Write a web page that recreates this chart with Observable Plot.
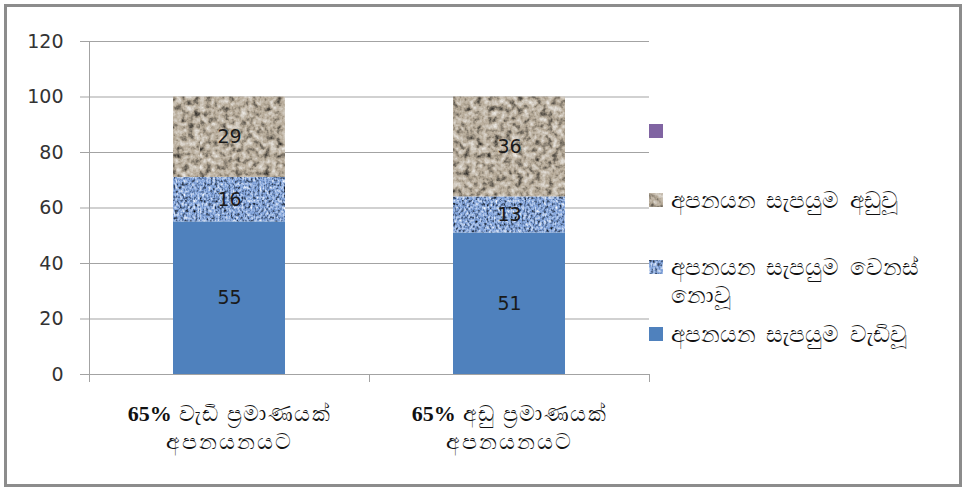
<!DOCTYPE html>
<html>
<head>
<meta charset="utf-8">
<script src="https://cdn.jsdelivr.net/npm/d3@7"></script>
<script src="https://cdn.jsdelivr.net/npm/@observablehq/plot@0.6"></script>
<style>
  html, body { margin: 0; padding: 0; background: #fff; }
  #wrap { position: relative; width: 964px; height: 487px; overflow: hidden; font-family: "DejaVu Sans", sans-serif; }
  #border { position: absolute; left: 4px; top: 4px; width: 958px; height: 483px; box-sizing: border-box; border: 3px solid #8c8c8c; pointer-events: none; }
  #chart { position: absolute; left: 0; top: 0; }
  .legend-item { position: absolute; left: 649px; display: flex; align-items: flex-start; font-size: 23px; word-spacing: 3px; color: #111; line-height: 28px; white-space: nowrap; }
  .legend-item svg { flex: none; margin-right: 8px; margin-top: 7px; }
</style>
</head>
<body>
<svg width="0" height="0" style="position:absolute">
  <defs>
    <filter id="graniteNoise" x="0" y="0" width="100%" height="100%" color-interpolation-filters="sRGB">
      <feTurbulence type="fractalNoise" baseFrequency="0.17" numOctaves="3" seed="7" result="n"/>
      <feColorMatrix in="n" type="saturate" values="0" result="g"/>
      <feComponentTransfer in="g" result="c">
        <feFuncR type="linear" slope="1.3" intercept="-0.12"/>
        <feFuncG type="linear" slope="1.3" intercept="-0.12"/>
        <feFuncB type="linear" slope="1.3" intercept="-0.12"/>
        <feFuncA type="linear" slope="0" intercept="1"/>
      </feComponentTransfer>
      <feBlend in="SourceGraphic" in2="c" mode="overlay"/>
    </filter>
    <filter id="denimNoise" x="0" y="0" width="100%" height="100%" color-interpolation-filters="sRGB">
      <feTurbulence type="fractalNoise" baseFrequency="0.45 0.3" numOctaves="2" seed="3" result="n"/>
      <feColorMatrix in="n" type="saturate" values="0" result="g"/>
      <feComponentTransfer in="g" result="c">
        <feFuncR type="linear" slope="1.6" intercept="-0.28"/>
        <feFuncG type="linear" slope="1.6" intercept="-0.28"/>
        <feFuncB type="linear" slope="1.6" intercept="-0.28"/>
        <feFuncA type="linear" slope="0" intercept="1"/>
      </feComponentTransfer>
      <feBlend in="SourceGraphic" in2="c" mode="overlay"/>
    </filter>
    <pattern id="granite" patternUnits="userSpaceOnUse" width="200" height="200">
      <rect width="200" height="200" fill="#b5a997" filter="url(#graniteNoise)"/>
    </pattern>
    <pattern id="denim" patternUnits="userSpaceOnUse" width="200" height="200">
      <rect width="200" height="200" fill="#80a2da" filter="url(#denimNoise)"/>
    </pattern>
  </defs>
</svg>
<div id="wrap">
  <div id="chart"></div>
  <div id="legend"></div>
  <div id="border"></div>
</div>
<script>
// Categories (two lines each) and the three stacked series
const categories = ["65% වැඩි ප්‍රමාණයක්\nඅපනයනයට", "65% අඩු ප්‍රමාණයක්\nඅපනයනයට"];
const seriesNames = ["අපනයන සැපයුම වැඩිවූ", "අපනයන සැපයුම වෙනස් නොවූ", "අපනයන සැපයුම අඩුවූ"];
const increased = [55, 51];
const unchanged = [16, 13];
const decreased = [29, 36];
const yTicks = [0, 20, 40, 60, 80, 100, 120];
const seriesFills = ["#4F81BD", "url(#denim)", "url(#granite)"];

const seriesValues = [increased, unchanged, decreased];
const rows = categories.flatMap((category, i) =>
  seriesNames.map((series, j) => ({idx: i, category, series, value: seriesValues[j][i]}))
);

const halfBar = 0.2; // bar half-width in category units

const chart = Plot.plot({
  width: 964,
  height: 487,
  marginLeft: 89,
  marginRight: 315,
  marginTop: 41,
  marginBottom: 113,
  style: {background: "transparent", fontFamily: "DejaVu Sans, sans-serif", fontSize: "19px"},
  x: {domain: [0, categories.length]},
  y: {domain: [0, 120]},
  color: {domain: seriesNames, range: seriesFills},
  marks: [
    Plot.ruleY(yTicks, {stroke: "#a3a3a3", strokeWidth: 1}),
    Plot.ruleX([0], {stroke: "#a3a3a3"}),
    Plot.axisY({ticks: yTicks, tickSize: 9, tickPadding: 17, stroke: "#a3a3a3", fill: "#333", fontSize: 19, label: null}),
    Plot.axisX({ticks: [0, 1, 2], tickSize: 8, tickFormat: () => "", stroke: "#a3a3a3", label: null}),
    Plot.rectY(rows, Plot.stackY({
      x: "idx",
      x1: d => d.idx + 0.5 - halfBar,
      x2: d => d.idx + 0.5 + halfBar,
      y: "value",
      fill: "series",
      order: seriesNames
    })),
    Plot.text(rows, Plot.stackY({
      x: d => d.idx + 0.5,
      y: "value",
      text: d => String(d.value),
      fill: "#1a1a1a",
      fontSize: 19
    })),
    Plot.text(categories, {
      x: (d, i) => i + 0.5,
      frameAnchor: "bottom",
      lineAnchor: "top",
      dy: 27,
      text: d => d,
      fontSize: 22,
      fontFamily: "Liberation Serif, serif",
      lineHeight: 1.25,
      fill: "#111"
    })
  ]
});
document.getElementById("chart").appendChild(chart);

// Bold the percentage at the start of each category label; widen the Sinhala spacing
d3.select(chart).selectAll("tspan").each(function() {
  const t = this.textContent;
  if (t.startsWith("65%")) {
    const rest = t.slice(3);
    this.textContent = "";
    d3.select(this).append("tspan").attr("font-weight", "bold").text("65%");
    d3.select(this).append("tspan").attr("letter-spacing", "1.5px").text(rest);
  } else if (t.startsWith("අ")) {
    d3.select(this).attr("letter-spacing", "2px");
  }
});

// Legend: an empty purple entry on top, then the series top to bottom
const legend = d3.select("#legend");
const legendItems = [
  {fill: "#8064A2", label: "", top: 117},
  {fill: seriesFills[2], label: seriesNames[2], top: 186},
  {fill: seriesFills[1], label: "අපනයන සැපයුම වෙනස්<br>නොවූ", top: 253},
  {fill: seriesFills[0], label: seriesNames[0], top: 320}
];
for (const item of legendItems) {
  const div = legend.append("div").attr("class", "legend-item").style("top", item.top + "px");
  const sw = div.append("svg").attr("width", 14).attr("height", 14);
  sw.append("rect").attr("width", 14).attr("height", 14).attr("fill", item.fill);
  div.append("span").html(item.label);
}
</script>
</body>
</html>
